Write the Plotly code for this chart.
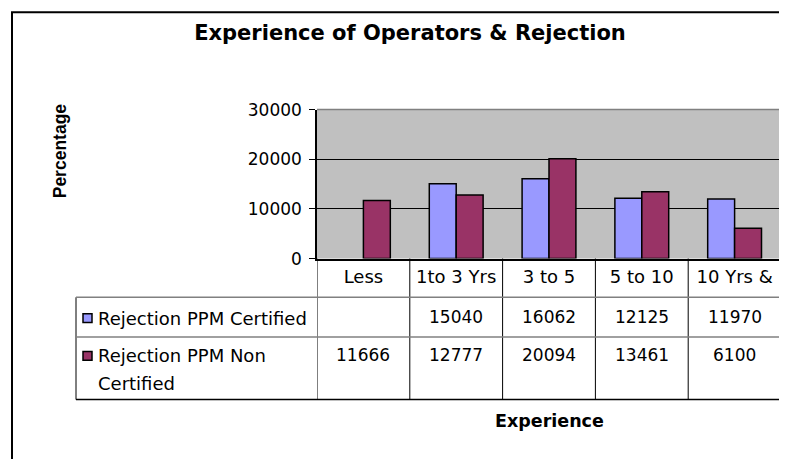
import plotly.graph_objects as go

categories = ["Less", "1to 3 Yrs", "3 to 5", "5 to 10", "10 Yrs &"]
certified = [None, 15040, 16062, 12125, 11970]
non_certified = [11666, 12777, 20094, 13461, 6100]
series_names = ["Rejection PPM Certified", "Rejection PPM Non Certified"]
series_colors = ["#9999FF", "#993366"]
y_ticks = [0, 10000, 20000, 30000]

W, H = 787, 459
OX = 8            # horizontal page offset
OY, SY = 15.8, 0.963  # vertical page offset / scale observed in the capture
FONT = "DejaVu Sans"


def px(x):
    return (x - OX) / W


def py(y):
    return 1 - ((y - OY) / SY) / H


PL, PR, PT, PB = 317, 781, 108, 258  # plot area in window pixels
TAB_LEFT, ROW1_TOP, ROW2_TOP, TAB_BOTTOM = 76, 297, 337, 400

fig = go.Figure()
for name, vals, col in zip(series_names, [certified, non_certified], series_colors):
    fig.add_trace(go.Bar(
        x=categories, y=vals, name=name,
        marker=dict(color=col, line=dict(color="black", width=1.5)),
        showlegend=False,
    ))

shapes = []
shapes.append(dict(type="rect", xref="paper", yref="paper",
                   x0=px(12), x1=1.05, y0=-0.05, y1=py(10),
                   line=dict(color="black", width=2), fillcolor="rgba(0,0,0,0)", layer="below"))
shapes.append(dict(type="line", xref="paper", yref="paper", x0=px(PL), x1=px(PR), y0=py(PT), y1=py(PT),
                   line=dict(color="#808080", width=1.5)))
shapes.append(dict(type="line", xref="paper", yref="paper", x0=px(PR), x1=px(PR), y0=py(PT), y1=py(PB),
                   line=dict(color="#808080", width=1.5)))
for i in range(len(categories) + 1):
    shapes.append(dict(type="line", xref="x", yref="paper", x0=i - 0.5, x1=i - 0.5,
                       y0=py(PB), y1=py(TAB_BOTTOM), line=dict(color="black", width=1)))
shapes.append(dict(type="line", xref="paper", yref="paper", x0=px(TAB_LEFT), x1=px(TAB_LEFT),
                   y0=py(ROW1_TOP), y1=py(TAB_BOTTOM), line=dict(color="black", width=1)))
for yy, colr in [(ROW1_TOP, "#808080"), (ROW2_TOP, "#808080"), (TAB_BOTTOM, "black")]:
    shapes.append(dict(type="line", xref="paper", yref="paper", x0=px(TAB_LEFT), x1=px(PR),
                       y0=py(yy), y1=py(yy), line=dict(color=colr, width=1.5)))
for yc, col in [(318, series_colors[0]), (356, series_colors[1])]:
    shapes.append(dict(type="rect", xref="paper", yref="paper", x0=px(83), x1=px(92),
                       y0=py(yc + 4.5), y1=py(yc - 4.5), fillcolor=col,
                       line=dict(color="black", width=1.5)))

TXT = dict(family=FONT, size=18, color="black")
VAL = dict(family=FONT, size=17, color="black")
annotations = []


def note(x, y, text, font, xref="paper", xanchor="center", **kw):
    annotations.append(dict(xref=xref, yref="paper", x=x, y=y, xanchor=xanchor, yanchor="middle",
                            text=text, showarrow=False, font=font, **kw))


note(px(96), py(318), "Rejection PPM Certified", TXT, xanchor="left")
note(px(96), py(356), "Rejection PPM Non", TXT, xanchor="left")
note(px(96), py(384), "Certified", TXT, xanchor="left")
for cat, v in zip(categories, certified):
    if v is not None:
        note(cat, py(317), str(v), VAL, xref="x")
for cat, v in zip(categories, non_certified):
    if v is not None:
        note(cat, py(355), str(v), VAL, xref="x")
note(px(60), py(150), "<b>Percentage</b>", dict(family="Liberation Sans", size=17.5, color="black"),
     textangle=-90)
note((px(PL) + px(PR)) / 2, py(422), "<b>Experience</b>", dict(family=FONT, size=17.5, color="black"))

fig.update_layout(
    width=W, height=H,
    margin=dict(l=0, r=0, t=0, b=0),
    paper_bgcolor="white",
    plot_bgcolor="#C0C0C0",
    barmode="group",
    bargap=0.42,
    bargroupgap=0,
    title=dict(text="<b>Experience of Operators & Rejection</b>", x=px(410), y=1 - 25 / H,
               xanchor="center", yanchor="middle",
               font=dict(family=FONT, size=21, color="black")),
    xaxis=dict(domain=[px(PL), px(PR)], showline=True, linecolor="black", linewidth=1.5,
               ticks="", tickfont=dict(family=FONT, size=18, color="black"), ticklabelstandoff=1,
               showgrid=False, zeroline=False, range=[-0.5, 4.5], fixedrange=True),
    yaxis=dict(domain=[py(PB), py(PT)], range=[0, 30000], tickvals=y_ticks, tickformat="d",
               showline=True, linecolor="black", linewidth=1.5,
               ticks="outside", ticklen=6, tickcolor="black", tickwidth=1,
               showgrid=True, gridcolor="black", gridwidth=1, zeroline=False,
               tickfont=dict(family=FONT, size=17, color="black"), ticklabelstandoff=4),
    shapes=shapes,
    annotations=annotations,
)

fig.write_html("out.html")
